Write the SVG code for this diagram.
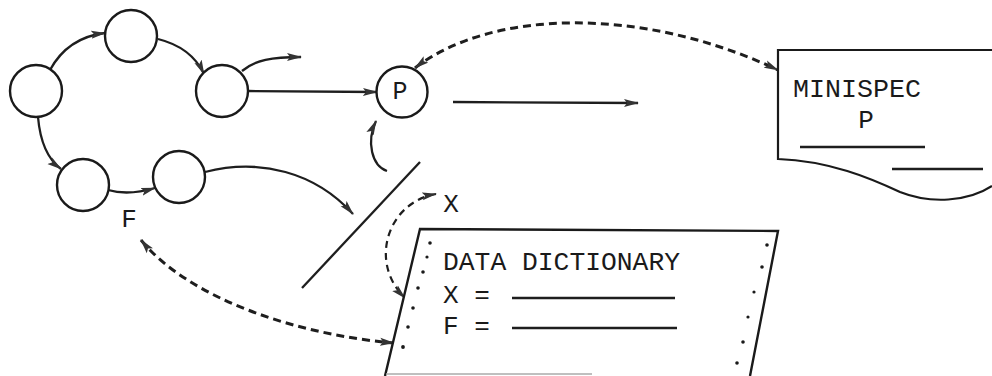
<svg xmlns="http://www.w3.org/2000/svg" width="992" height="376" viewBox="0 0 992 376">
<style>
.n{fill:#fff;stroke:#1a1a1a;stroke-width:2.4}
.c{fill:none;stroke:#1e1e1e;stroke-width:2.3}
.d{fill:none;stroke:#1e1e1e;stroke-width:3;stroke-dasharray:8,5}
.d2{fill:none;stroke:#1e1e1e;stroke-width:2.2;stroke-dasharray:7,5}
.t{font-family:"Liberation Mono","Courier New",monospace;fill:#1a1a1a}
.dot{fill:#1a1a1a}
</style>
<defs>
<marker id="ah" viewBox="0 0 15 9" refX="14" refY="4.5" markerWidth="15" markerHeight="9" markerUnits="userSpaceOnUse" orient="auto-start-reverse">
<path d="M0,0.5 L15,4.5 L0,8.5 L3,4.5 Z" fill="#333"/>
</marker>
</defs>
<g id="connectors">
<path class="c" d="M50,70 C62,48 80,36 105,33" marker-end="url(#ah)"/>
<path class="c" d="M158,39 C178,44 195,55 204,74" marker-end="url(#ah)"/>
<path class="c" d="M242,71 C255,60 272,57 301,57" marker-end="url(#ah)"/>
<path class="c" d="M249,91 L377,92" marker-end="url(#ah)"/>
<path class="c" d="M38,117 C40,140 46,158 61,169" marker-end="url(#ah)"/>
<path class="c" d="M108,190 C122,194 138,193 155,188" marker-end="url(#ah)"/>
<path class="c" d="M205,172 C260,158 315,172 353,214" marker-end="url(#ah)"/>
<path class="c" d="M387,171 C372,166 366,142 376,121" marker-end="url(#ah)"/>
<path class="c" d="M453,102 L638,103" marker-end="url(#ah)"/>
<path class="c" d="M302,288 L420,162"/>
<path class="d" d="M415,68 C490,10 640,5 778,70" marker-start="url(#ah)" marker-end="url(#ah)"/>
<path class="d2" d="M436,194 C388,202 368,262 405,298" marker-start="url(#ah)" marker-end="url(#ah)"/>
<path class="d" d="M141,240 C190,300 300,335 394,343" marker-start="url(#ah)" marker-end="url(#ah)"/>
</g>
<g id="node-c1"><circle class="n" cx="36" cy="91" r="26"/></g>
<g id="node-c2"><circle class="n" cx="131" cy="36" r="26"/></g>
<g id="node-c3"><circle class="n" cx="222" cy="91" r="26"/></g>
<g id="node-c4"><circle class="n" cx="83" cy="185" r="26"/></g>
<g id="node-c5"><circle class="n" cx="179" cy="177" r="26"/></g>
<g id="node-p">
<circle class="n" cx="402" cy="92" r="25.5"/>
<text class="t" x="400" y="99" font-size="25" text-anchor="middle">P</text>
</g>
<g id="label-f"><text class="t" x="129" y="227" font-size="26" text-anchor="middle">F</text></g>
<g id="label-x"><text class="t" x="451" y="212" font-size="26" text-anchor="middle">X</text></g>
<g id="node-minispec">
<path fill="#fff" stroke="#1a1a1a" stroke-width="2.2" d="M992,50 L778,50 L778,159 C830,161 870,178 900,192 C930,204 968,202 992,186"/>
<text class="t" x="793" y="97" font-size="26" textLength="128" lengthAdjust="spacingAndGlyphs">MINISPEC</text>
<text class="t" x="866" y="128" font-size="26" text-anchor="middle">P</text>
<line class="c" x1="800" y1="147" x2="925" y2="147"/>
<line class="c" x1="892" y1="169" x2="983" y2="169"/>
</g>
<g id="node-data-dictionary">
<path fill="#fff" stroke="#1a1a1a" stroke-width="2.4" d="M385,376 L420,229 L778,231 L750,376"/>
<line x1="386" y1="374" x2="592" y2="374" stroke="#aaa" stroke-width="1.5"/>
<g class="dot">
<circle cx="430" cy="243" r="1.8"/><circle cx="427" cy="257" r="1.6"/><circle cx="423" cy="272" r="1.8"/><circle cx="418" cy="288" r="1.8"/><circle cx="413" cy="308" r="1.8"/><circle cx="408" cy="327" r="1.8"/><circle cx="403" cy="347" r="1.9"/>
<circle cx="767" cy="245" r="1.8"/><circle cx="762" cy="267" r="1.8"/><circle cx="754" cy="292" r="1.6"/><circle cx="748" cy="317" r="1.6"/><circle cx="743" cy="342" r="1.8"/><circle cx="737" cy="363" r="1.8"/>
</g>
<text class="t" x="443" y="270" font-size="26" textLength="237" lengthAdjust="spacingAndGlyphs">DATA DICTIONARY</text>
<text class="t" x="443" y="303" font-size="26">X =</text>
<line class="c" x1="512" y1="298" x2="675" y2="298"/>
<text class="t" x="443" y="334" font-size="26">F =</text>
<line class="c" x1="512" y1="328" x2="677" y2="328"/>
</g>
</svg>
